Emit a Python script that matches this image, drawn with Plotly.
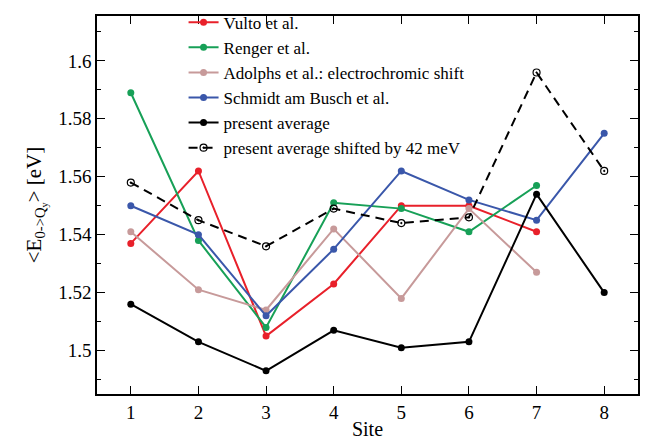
import plotly.graph_objects as go

sites = [1, 2, 3, 4, 5, 6, 7, 8]

vulto = [1.537, 1.562, 1.505, 1.523, 1.550, 1.550, 1.541]
renger = [1.589, 1.538, 1.508, 1.551, 1.549, 1.541, 1.557]
adolphs = [1.541, 1.521, 1.514, 1.542, 1.518, 1.549, 1.527]
schmidt = [1.550, 1.540, 1.512, 1.535, 1.562, 1.552, 1.545, 1.575]
present = [1.516, 1.503, 1.493, 1.507, 1.501, 1.503, 1.554, 1.520]
present_shifted = [1.558, 1.545, 1.536, 1.549, 1.544, 1.546, 1.596, 1.562]

y_ticks = [1.5, 1.52, 1.54, 1.56, 1.58, 1.6]
y_tick_text = ["1.5", "1.52", "1.54", "1.56", "1.58", "1.6"]

FONT = "Liberation Serif"

fig = go.Figure()

series = [
    ("Vulto et al.", vulto, "#e8202a"),
    ("Renger et al.", renger, "#17a057"),
    ("Adolphs et al.: electrochromic shift", adolphs, "#c79a9a"),
    ("Schmidt am Busch et al.", schmidt, "#3a57aa"),
    ("present average", present, "#000000"),
]
for name, vals, color in series:
    fig.add_trace(go.Scatter(
        x=sites[:len(vals)], y=vals, name=name, mode="lines+markers",
        line=dict(color=color, width=2),
        marker=dict(color=color, size=7, symbol="circle"),
    ))

fig.add_trace(go.Scatter(
    x=sites, y=present_shifted, name="present average shifted by 42 meV",
    mode="lines+markers",
    line=dict(color="#000000", width=2, dash="9px,6px"),
    marker=dict(color="#000000", size=7, symbol="circle-open-dot",
                line=dict(width=1.2)),
))

fig.update_layout(
    width=645, height=442,
    margin=dict(l=97, r=5, t=16, b=44),
    paper_bgcolor="white", plot_bgcolor="white",
    font=dict(family=FONT, size=19, color="black"),
    showlegend=True,
    legend=dict(
        x=0.16, y=1.03, xanchor="left", yanchor="top",
        bgcolor="rgba(0,0,0,0)", font=dict(size=17, family=FONT),
        tracegroupgap=0, itemwidth=30,
    ),
)

fig.update_xaxes(
    range=[0.5, 8.5], tickvals=sites, ticktext=[str(s) for s in sites],
    ticks="inside", ticklen=8, tickwidth=1, tickcolor="black",
    showline=True, linecolor="black", linewidth=1.5, mirror="ticks",
    showgrid=False, zeroline=False,
    title=dict(text="Site", font=dict(size=20, family=FONT), standoff=0),
    tickfont=dict(size=19, family=FONT),
)
fig.update_yaxes(
    range=[1.485, 1.6155], tickvals=y_ticks, ticktext=y_tick_text,
    ticks="inside", ticklen=8, tickwidth=1, tickcolor="black",
    minor=dict(dtick=0.01, tick0=1.49, ticks="inside", ticklen=4,
               tickcolor="black", showgrid=False),
    showline=True, linecolor="black", linewidth=1.5, mirror="ticks",
    showgrid=False, zeroline=False,
    title=dict(text="&lt;E<sub>0-&gt;Q<sub>y</sub></sub>&gt; [eV]",
               font=dict(size=21, family=FONT), standoff=11),
    tickfont=dict(size=19, family=FONT),
)

fig.write_html("out.html")
